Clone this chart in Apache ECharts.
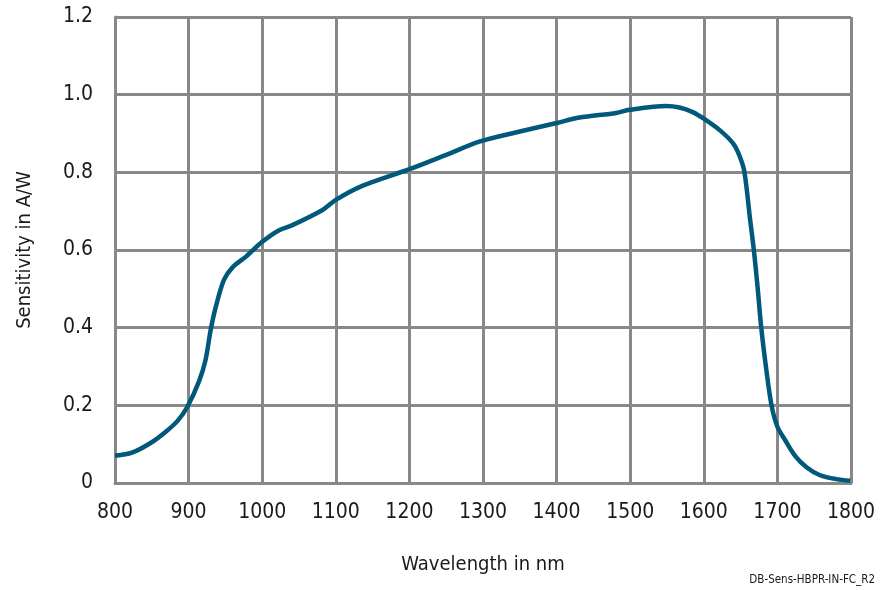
<!DOCTYPE html>
<html>
<head>
<meta charset="utf-8">
<script src="https://cdn.jsdelivr.net/npm/echarts@6/dist/echarts.min.js"></script>
<style>
  html, body { margin: 0; padding: 0; background: #fff; }
  #myChart { width: 888px; height: 590px; }
</style>
</head>
<body>
<div id="myChart"></div>
<script>
// wavelength in nm and sensitivity in A/W
const wavelength = [800, 823, 850, 869, 885, 898, 914, 923, 930, 937, 948, 960, 978, 1000, 1023, 1041, 1082, 1100, 1136, 1200, 1250, 1295, 1350, 1400, 1431, 1481, 1499, 1549, 1567, 1585, 1600, 1622, 1640, 1648, 1655, 1663, 1668, 1673, 1678, 1685, 1692, 1700, 1710, 1724, 1740, 1758, 1780, 1799];
const sensitivity = [0.070, 0.078, 0.105, 0.132, 0.160, 0.195, 0.261, 0.317, 0.394, 0.454, 0.523, 0.556, 0.583, 0.621, 0.651, 0.664, 0.703, 0.729, 0.765, 0.808, 0.845, 0.879, 0.905, 0.927, 0.941, 0.953, 0.961, 0.971, 0.967, 0.955, 0.938, 0.908, 0.874, 0.845, 0.803, 0.677, 0.600, 0.506, 0.401, 0.291, 0.200, 0.145, 0.112, 0.070, 0.040, 0.020, 0.010, 0.006];

const fontName = '"DejaVu Sans Condensed", "Liberation Sans Narrow", sans-serif';
const gridColor = '#888888';
const textColor = '#1a1a1a';

const myChart = echarts.init(document.getElementById('myChart'));

const option = {
  animation: false,
  backgroundColor: '#ffffff',
  grid: { left: 115, right: 37, top: 17, bottom: 107 },
  xAxis: {
    type: 'value',
    min: 800,
    max: 1800,
    interval: 100,
    name: 'Wavelength in nm',
    nameLocation: 'middle',
    nameGap: 72,
    nameTextStyle: { fontFamily: fontName, fontSize: 20, color: textColor },
    axisLine: { show: true, lineStyle: { color: gridColor, width: 3 } },
    axisTick: { show: false },
    axisLabel: {
      fontFamily: fontName, fontSize: 21, color: textColor, margin: 19,
      formatter: v => String(v)
    },
    splitLine: { show: true, lineStyle: { color: gridColor, width: 3 } }
  },
  yAxis: {
    type: 'value',
    min: 0,
    max: 1.2,
    interval: 0.2,
    name: 'Sensitivity in A/W',
    nameLocation: 'middle',
    nameGap: 80,
    nameTextStyle: { fontFamily: fontName, fontSize: 20, color: textColor },
    axisLine: { show: true, lineStyle: { color: gridColor, width: 3 } },
    axisTick: { show: false },
    axisLabel: {
      fontFamily: fontName, fontSize: 21, color: textColor, margin: 22,
      formatter: v => (v === 0 ? '0' : v.toFixed(1))
    },
    splitLine: { show: true, lineStyle: { color: gridColor, width: 3 } }
  },
  graphic: [{
    type: 'text',
    right: 13,
    top: 574,
    style: { text: 'DB-Sens-HBPR-IN-FC_R2', fontFamily: fontName, fontSize: 11.5, fill: textColor }
  }],
  series: [{
    type: 'line',
    data: wavelength.map((w, i) => [w, sensitivity[i]]),
    smooth: 0.3,
    showSymbol: false,
    lineStyle: { color: '#00597a', width: 4.5 }
  }]
};

myChart.setOption(option);
</script>
</body>
</html>
